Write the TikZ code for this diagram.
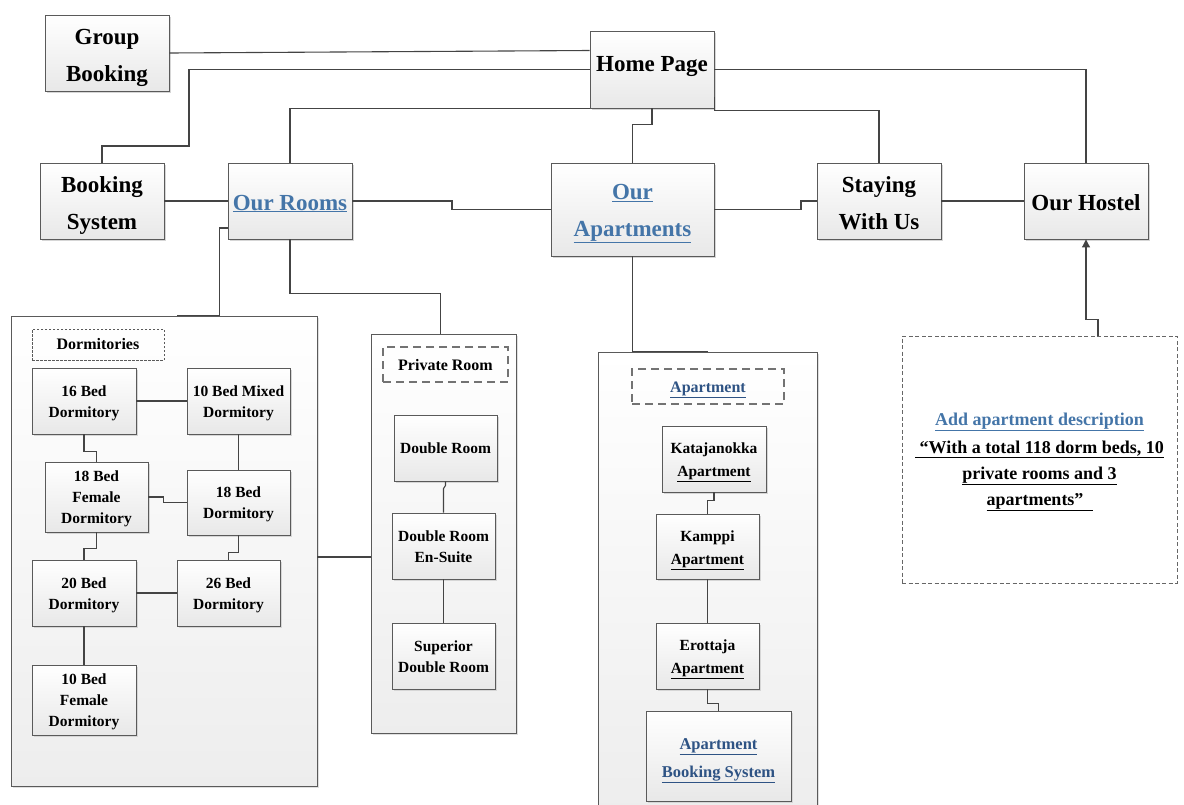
\documentclass[tikz,border=0pt]{standalone}
\usepackage{fontspec}
\setmainfont{Liberation Serif}
\usetikzlibrary{shadows,arrows.meta}
\definecolor{edgegray}{HTML}{5A5A5A}
\definecolor{wiregray}{HTML}{444444}
\definecolor{linkblue}{HTML}{4475A8}
\definecolor{navyblue}{HTML}{2E5384}
\newcommand{\lnk}[1]{\textcolor{linkblue}{\underline{#1}}}
\newcommand{\nlnk}[1]{\textcolor{navyblue}{\underline{#1}}}
\tikzset{
  x=1pt, y=-1pt,
  wh/.style 2 args={minimum width=#1pt, minimum height=#2pt},
  % places the last baseline #1/2 below the node centre
  base/.style={text height=#1pt, text depth=0pt},
  shade/.style={top color=white, bottom color=black!9,
    drop shadow={shadow xshift=2pt, shadow yshift=-2pt, fill=black!16, opacity=1}},
  box/.style={shade, draw=edgegray, line width=0.9pt, inner sep=0pt, align=center},
  bigbox/.style={box, font=\bfseries\fontsize{23}{37}\selectfont},
  smallbox/.style={box, base=32.6, font=\bfseries\fontsize{15.5}{21}\selectfont},
  aptbox/.style={box, base=35.2, font=\bfseries\fontsize{15.5}{23}\selectfont},
  groupbox/.style={draw=edgegray, line width=0.9pt, inner sep=0pt,
    top color=white, bottom color=black!7,
    drop shadow={shadow xshift=2pt, shadow yshift=-2pt, fill=black!12, opacity=1}},
  finetag/.style={draw=edgegray, line width=0.7pt, dash pattern=on 2.5pt off 1.5pt,
    inner sep=0pt, align=center, font=\bfseries\fontsize{16}{20}\selectfont},
  widetag/.style={draw=black!55, line width=1.3pt, dash pattern=on 8pt off 5pt,
    inner sep=0pt, align=center, font=\bfseries\fontsize{16}{20}\selectfont},
  notebox/.style={draw=black!60, line width=0.8pt, dash pattern=on 4pt off 2.5pt,
    inner sep=0pt, align=center, font=\bfseries\fontsize{18}{26}\selectfont},
  wire/.style={draw=wiregray, line width=1.1pt},
}
\begin{document}
\begin{tikzpicture}
\useasboundingbox (0,0) rectangle (1184,804);
\clip (0,0) rectangle (1184,804);

% top level pages
\node[bigbox, base=57.4, wh={124}{76}] (gb) at (107,53) {Group\\Booking};
\node[bigbox, base=4.4, wh={124}{77}] (hp) at (652,69.5) {Home Page};
\node[bigbox, base=56, wh={124}{76}] (bs) at (102,201) {Booking\\System};
\node[bigbox, base=18, wh={124}{76}] (rooms) at (290,201) {\lnk{Our Rooms}};
\node[bigbox, base=53.5, wh={163}{93}] (apts) at (632.5,209.5) {\lnk{Our}\\\lnk{Apartments}};
\node[bigbox, base=56, wh={124}{76}] (stay) at (879,201) {Staying\\With Us};
\node[bigbox, base=18, wh={124}{76}] (hostel) at (1086,201) {Our Hostel};

% group containers
\node[groupbox, wh={306}{470}] (dorms) at (164,551) {};
\node[groupbox, wh={145}{399}] (priv) at (443.5,533.5) {};
\node[groupbox, wh={219}{460}] (aptg) at (707.5,582) {};

% group titles
\node[finetag, base=9.6, wh={132}{31}] (dormtag) at (98,344.5) {Dormitories};
\node[widetag, base=11, wh={125}{35}] (privtag) at (445.5,364.5) {Private Room};
\node[widetag, base=11.6, wh={152}{35}] (apttag) at (708,386.5) {\nlnk{Apartment}};

% dormitories
\node[smallbox, wh={104}{66}] (d16) at (84,401) {16 Bed\\Dormitory};
\node[smallbox, wh={103}{66}] (dmix) at (238.5,401) {10 Bed Mixed\\Dormitory};
\node[smallbox, base=52, wh={103}{70}] (d18f) at (96.5,497) {18 Bed\\Female\\Dormitory};
\node[smallbox, wh={103}{65}] (d18) at (238.5,502.5) {18 Bed\\Dormitory};
\node[smallbox, wh={104}{66}] (d20) at (84,593) {20 Bed\\Dormitory};
\node[smallbox, wh={103}{66}] (d26) at (228.5,593) {26 Bed\\Dormitory};
\node[smallbox, base=53, wh={104}{70}] (d10f) at (84,700) {10 Bed\\Female\\Dormitory};

% private rooms
\node[smallbox, base=10.7, wh={103}{66}] (dbl) at (445.5,448) {Double Room};
\node[smallbox, base=32, wh={103}{66}] (ens) at (443.5,546) {Double Room\\En-Suite};
\node[smallbox, base=32, wh={103}{66}] (sup) at (443.5,656) {Superior\\Double Room};

% apartments
\node[aptbox, wh={104}{66}] (kat) at (714,459) {Katajanokka\\\underline{Apartment}};
\node[aptbox, wh={103}{65}] (kam) at (707.5,546.5) {Kamppi\\\underline{Apartment}};
\node[aptbox, wh={103}{66}] (ero) at (707.5,656) {Erottaja\\\underline{Apartment}};
\node[box, base=42, font=\bfseries\fontsize{16.5}{28}\selectfont, wh={145}{90}] (abs) at (718.5,756)
  {\nlnk{Apartment}\\\nlnk{Booking System}};

% description note
\node[notebox, base=91, wh={275}{247}] (desc) at (1039.5,459.5)
  {\lnk{Add apartment description}\\[2pt]
   \underline{\ “With a total 118 dorm beds, 10}\\
   \underline{private rooms and 3}\\
   \underline{apartments”\ \ }};

% links between top level pages
\draw[wire] (gb.east) -- ([yshift=19pt]hp.west);
\draw[wire] (hp.west) -| (189,146) -| (bs.north);
\draw[wire] (hp.south west) -| (rooms.north);
\draw[wire] (hp.south) -- ++(0,16) -| (apts.north);
\draw[wire] (hp.east) -| (hostel.north);
\draw[wire] ([yshift=11pt]hp.south east) -- ++(0,13) -| (stay.north);
\draw[wire] (bs.east) -- (rooms.west);
\draw[wire] (rooms.east) -| (452,209.5) -- (apts.west);
\draw[wire] (apts.east) -| (801,201) -- (stay.west);
\draw[wire] (stay.east) -- (hostel.west);

% rooms to their groups
\draw[wire] ([yshift=-27pt]rooms.west) -- ++(-8,0) |- ([xshift=13pt]dorms.north);
\draw[wire] (rooms.south) -- ++(0,54) -| ([xshift=-3pt]priv.north);
\draw[wire] ([yshift=-6pt]dorms.east) -- ([yshift=-6pt]dorms.east -| priv.west);
\draw[wire] (apts.south) |- (aptg.north);

% dormitory links
\draw[wire] (d16.east) -- (dmix.west);
\draw[wire] (d16.south) -- ++(0,17) -| (d18f.north);
\draw[wire] (dmix.south) -- (d18.north);
\draw[wire] (d18f.east) -- ++(15,0) |- (d18.west);
\draw[wire] (d18f.south) -- ++(0,16) -| (d20.north);
\draw[wire] (d18.south) -- ++(0,17) -| (d26.north);
\draw[wire] (d20.east) -- (d26.west);
\draw[wire] (d20.south) -- (d10f.north);

% private room links
\draw[wire] (dbl.south) -- ++(0,4) -- ([yshift=24pt]ens.north) -- (ens.north);
\draw[wire] (ens.south) -- (sup.north);

% apartment links
\draw[wire] (kat.south) -- ++(0,8) -| (kam.north);
\draw[wire] (kam.south) -- (ero.north);
\draw[wire] (ero.south) -- ++(0,14) -| (abs.north);

% note arrow
\draw[wire, -{Triangle[length=8pt, width=8pt]}] ([xshift=58.5pt]desc.north) -- ++(0,-16) -| (hostel.south);
\end{tikzpicture}
\end{document}
